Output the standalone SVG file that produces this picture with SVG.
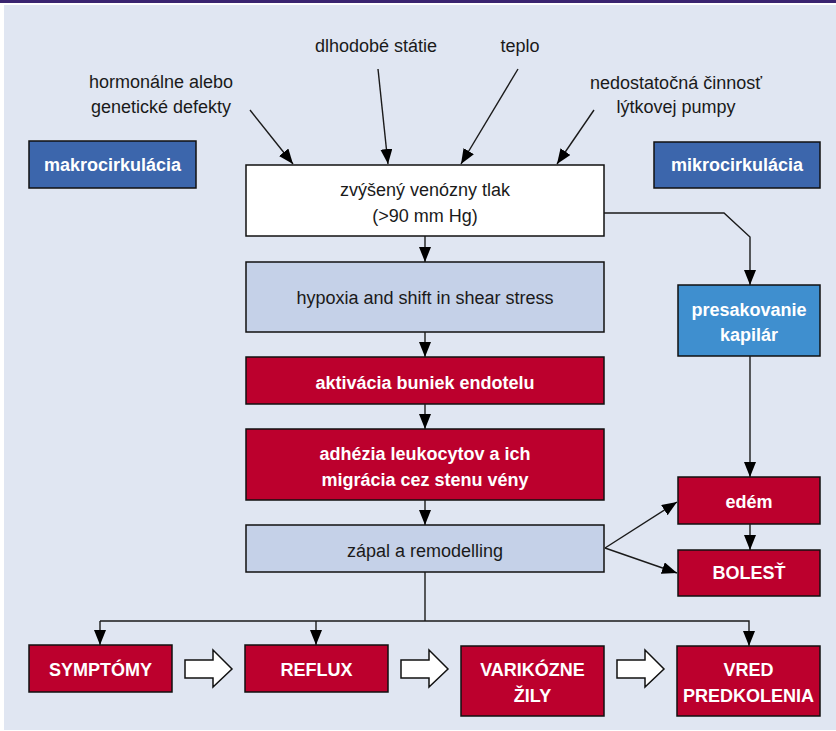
<svg xmlns="http://www.w3.org/2000/svg" width="836" height="731" viewBox="0 0 836 731">
<defs>
<style>
.bg{fill:#e0e6f2}
.box{stroke:#111;stroke-width:1.5}
.white{fill:#fff}
.pale{fill:#c5d1e8}
.red{fill:#bc002d}
.dblue{fill:#3c66ac}
.lblue{fill:#3f8fcf}
.t{font-family:"Liberation Sans",Arial,sans-serif;font-size:18px;fill:#1a1a1a;text-anchor:middle}
.tb{font-family:"Liberation Sans",Arial,sans-serif;font-size:18px;font-weight:bold;fill:#fff;text-anchor:middle}
.c{fill:none;stroke:#1a1a1a;stroke-width:1.4}
.hollow{fill:#fff;stroke:#111;stroke-width:1.5}
</style>
<marker id="ah" markerUnits="userSpaceOnUse" markerWidth="16" markerHeight="13" refX="15" refY="6" orient="auto" viewBox="0 0 16 13">
<path d="M0,0 L15,6 L0,12 z" fill="#000"/>
</marker>
</defs>
<rect x="0" y="0" width="836" height="731" fill="#fff"/>
<rect class="bg" x="4" y="5" width="832" height="725"/>
<rect x="0" y="0" width="836" height="3" fill="#3a2470"/>

<g id="labels">
<text class="t" x="161" y="88">hormonálne alebo</text>
<text class="t" x="161" y="113">genetické defekty</text>
<text class="t" x="376" y="52">dlhodobé státie</text>
<text class="t" x="520" y="52">teplo</text>
<text class="t" x="676" y="89">nedostatočná činnosť</text>
<text class="t" x="676" y="113">lýtkovej pumpy</text>
</g>

<g id="makrocirkulacia">
<rect class="box dblue" x="29" y="141" width="167" height="47"/>
<text class="tb" x="112.5" y="171">makrocirkulácia</text>
</g>
<g id="mikrocirkulacia">
<rect class="box dblue" x="654" y="142" width="166" height="46"/>
<text class="tb" x="737" y="171">mikrocirkulácia</text>
</g>
<g id="tlak">
<rect class="box white" x="246" y="165" width="358" height="71"/>
<text class="t" x="425" y="196">zvýšený venózny tlak</text>
<text class="t" x="425" y="222">(&gt;90 mm Hg)</text>
</g>
<g id="hypoxia">
<rect class="box pale" x="246" y="262" width="358" height="70"/>
<text class="t" x="425" y="304">hypoxia and shift in shear stress</text>
</g>
<g id="aktivacia">
<rect class="box red" x="246" y="357" width="358" height="47"/>
<text class="tb" x="425" y="389">aktivácia buniek endotelu</text>
</g>
<g id="adhezia">
<rect class="box red" x="246" y="429" width="358" height="71"/>
<text class="tb" x="425" y="460">adhézia leukocytov a ich</text>
<text class="tb" x="425" y="486">migrácia cez stenu vény</text>
</g>
<g id="zapal">
<rect class="box pale" x="246" y="525" width="358" height="47"/>
<text class="t" x="425" y="557">zápal a remodelling</text>
</g>
<g id="presakovanie">
<rect class="box lblue" x="678" y="285" width="142" height="71"/>
<text class="tb" x="749" y="316">presakovanie</text>
<text class="tb" x="749" y="341">kapilár</text>
</g>
<g id="edem">
<rect class="box red" x="678" y="477" width="142" height="47"/>
<text class="tb" x="749" y="508">edém</text>
</g>
<g id="bolest">
<rect class="box red" x="678" y="550" width="142" height="46"/>
<text class="tb" x="749" y="579">BOLESŤ</text>
</g>
<g id="symptomy">
<rect class="box red" x="29" y="645" width="143" height="47"/>
<text class="tb" x="100.5" y="676">SYMPTÓMY</text>
</g>
<g id="reflux">
<rect class="box red" x="245" y="645" width="143" height="47"/>
<text class="tb" x="316.5" y="676">REFLUX</text>
</g>
<g id="varikozne">
<rect class="box red" x="461" y="646" width="143" height="70"/>
<text class="tb" x="532.5" y="676">VARIKÓZNE</text>
<text class="tb" x="532.5" y="702">ŽILY</text>
</g>
<g id="vred">
<rect class="box red" x="677" y="646" width="143" height="70"/>
<text class="tb" x="748.5" y="676">VRED</text>
<text class="tb" x="748.5" y="702">PREDKOLENIA</text>
</g>

<g id="connectors">
<line class="c" x1="250" y1="110" x2="293" y2="164" marker-end="url(#ah)"/>
<line class="c" x1="378" y1="69" x2="388" y2="164" marker-end="url(#ah)"/>
<line class="c" x1="518" y1="69" x2="461" y2="164" marker-end="url(#ah)"/>
<line class="c" x1="594" y1="110" x2="557" y2="164" marker-end="url(#ah)"/>
<line class="c" x1="425" y1="236" x2="425" y2="262" marker-end="url(#ah)"/>
<line class="c" x1="425" y1="332" x2="425" y2="357" marker-end="url(#ah)"/>
<line class="c" x1="425" y1="404" x2="425" y2="429" marker-end="url(#ah)"/>
<line class="c" x1="425" y1="500" x2="425" y2="525" marker-end="url(#ah)"/>
<polyline class="c" points="604,213 724,213 750,237 750,285" marker-end="url(#ah)"/>
<line class="c" x1="750" y1="356" x2="750" y2="477" marker-end="url(#ah)"/>
<line class="c" x1="750" y1="524" x2="750" y2="550" marker-end="url(#ah)"/>
<line class="c" x1="605" y1="548" x2="677" y2="502" marker-end="url(#ah)"/>
<line class="c" x1="605" y1="548" x2="677" y2="573" marker-end="url(#ah)"/>
<polyline class="c" points="425,572 425,621"/>
<polyline class="c" points="100,621 749,621 749,646" marker-end="url(#ah)"/>
<line class="c" x1="100" y1="621" x2="100" y2="645" marker-end="url(#ah)"/>
<line class="c" x1="316" y1="621" x2="316" y2="645" marker-end="url(#ah)"/>
<polygon class="hollow" points="185,660 213,660 213,650 232,669 213,687 213,678 185,678"/>
<polygon class="hollow" points="401,660 429,660 429,650 448,669 429,687 429,678 401,678"/>
<polygon class="hollow" points="617,660 645,660 645,650 664,669 645,687 645,678 617,678"/>
</g>
</svg>
